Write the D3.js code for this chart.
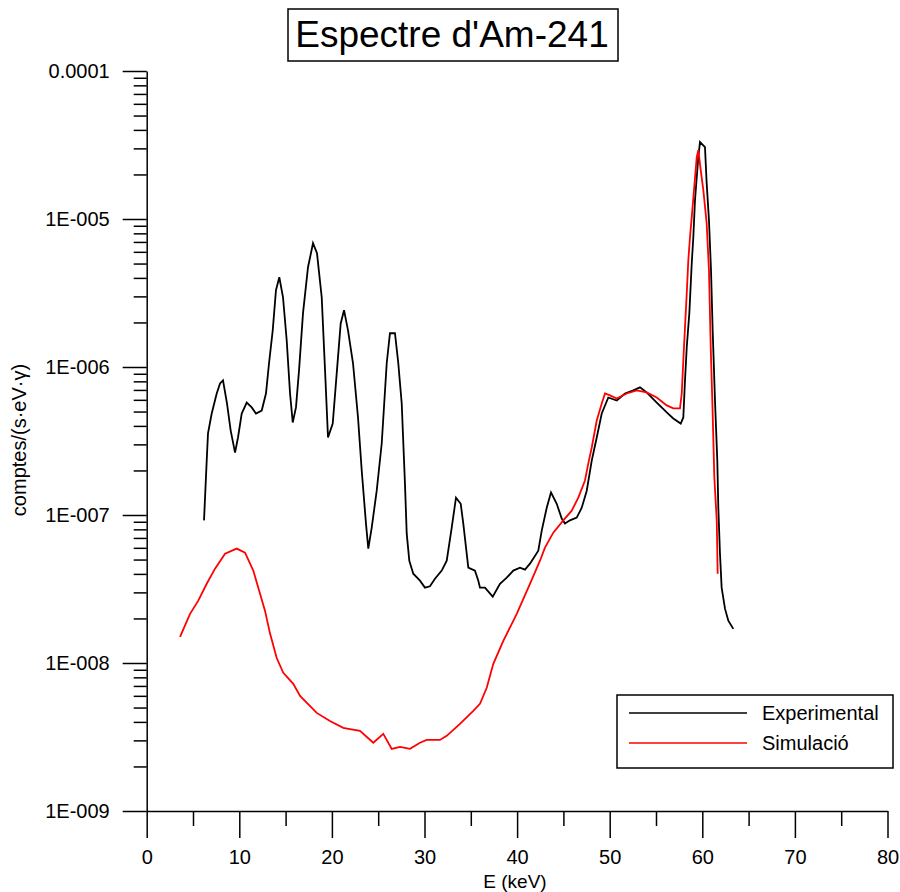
<!DOCTYPE html>
<html>
<head>
<meta charset="utf-8">
<script src="https://cdn.jsdelivr.net/npm/d3@7"></script>
<style>
  body { margin: 0; background: #fff; }
  svg { font-family: "Liberation Sans", Arial, sans-serif; }
</style>
</head>
<body>
<div id="chart"></div>
<script>
// Experimental spectrum (E in keV, counts/(s·eV·γ))
var expE = [6.19, 6.48, 6.62, 7.02, 7.56, 7.92, 8.24, 8.67, 9.07, 9.54, 9.86, 10.26, 10.80, 11.34, 11.80,
  12.42, 12.88, 13.21, 13.61, 13.96, 14.32, 14.72, 15.12, 15.48, 15.77, 16.12, 16.45, 16.88, 17.42, 17.96,
  18.39, 18.90, 19.26, 19.58, 20.09, 20.52, 20.95, 21.31, 21.74, 22.28, 22.82, 23.22, 23.68, 23.93, 24.30,
  24.84, 25.38, 25.92, 26.27, 26.81, 27.17, 27.54, 27.89, 28.08, 28.36, 28.79, 29.51, 30.05, 30.59, 31.13,
  31.86, 32.40, 32.94, 33.40, 33.91, 34.19, 34.73, 35.45, 35.81, 35.99, 36.53, 37.37, 38.15, 38.88, 39.59,
  40.31, 40.85, 41.39, 42.29, 42.66, 43.20, 43.66, 44.28, 44.82, 45.17, 45.71, 46.44, 46.98, 47.52, 48.06,
  48.60, 49.14, 49.85, 50.76, 51.65, 52.55, 53.27, 53.99, 55.08, 56.16, 56.87, 57.67, 57.95, 58.13, 58.32,
  58.60, 58.86, 59.03, 59.21, 59.40, 59.57, 59.75, 60.29, 60.47, 60.72, 60.94, 61.12, 61.37, 61.62, 61.73,
  61.91, 62.09, 62.45, 62.81, 63.35];
var expCounts = [9.2e-8, 2.33e-7, 3.56e-7, 4.85e-7, 6.62e-7, 7.74e-7, 8.11e-7, 5.67e-7, 3.72e-7, 2.64e-7,
  3.34e-7, 4.85e-7, 5.75e-7, 5.33e-7, 4.85e-7, 5.08e-7, 6.62e-7, 1.06e-6, 1.77e-6, 3.30e-6, 4.04e-6, 2.96e-6,
  1.51e-6, 6.62e-7, 4.22e-7, 5.33e-7, 9.48e-7, 2.31e-6, 4.72e-6, 6.86e-6, 5.87e-6, 2.96e-6, 9.48e-7, 3.34e-7,
  4.15e-7, 9.05e-7, 1.97e-6, 2.42e-6, 1.77e-6, 1.06e-6, 4.56e-7, 2.00e-7, 8.75e-8, 5.93e-8, 8.22e-8, 1.46e-7,
  3.04e-7, 1.06e-6, 1.69e-6, 1.69e-6, 1.06e-6, 5.67e-7, 1.63e-7, 7.48e-8, 4.91e-8, 4.01e-8, 3.60e-8, 3.23e-8,
  3.30e-8, 3.71e-8, 4.21e-8, 4.91e-8, 8.22e-8, 1.31e-7, 1.19e-7, 8.75e-8, 4.41e-8, 4.21e-8, 3.60e-8, 3.23e-8,
  3.23e-8, 2.81e-8, 3.43e-8, 3.77e-8, 4.21e-8, 4.41e-8, 4.27e-8, 4.69e-8, 5.74e-8, 7.84e-8, 1.12e-7, 1.42e-7,
  1.19e-7, 9.46e-8, 8.75e-8, 9.2e-8, 9.6e-8, 1.12e-7, 1.46e-7, 2.33e-7, 3.34e-7, 4.85e-7, 6.22e-7, 5.94e-7,
  6.62e-7, 6.95e-7, 7.28e-7, 6.73e-7, 5.75e-7, 4.93e-7, 4.49e-7, 4.15e-7, 4.56e-7, 8.11e-7, 1.36e-6, 2.31e-6,
  5.02e-6, 7.53e-6, 1.34e-5, 1.92e-5, 2.62e-5, 3.31e-5, 3.06e-5, 1.75e-5, 9.8e-6, 4.51e-6, 1.77e-6, 5.94e-7,
  2.33e-7, 1.12e-7, 5.48e-8, 3.23e-8, 2.33e-8, 1.93e-8, 1.7e-8];

// Simulated spectrum
var simE = [3.60, 4.68, 5.57, 6.48, 7.38, 8.46, 9.72, 10.62, 11.51, 12.24, 12.78, 13.32, 14.04, 14.75, 15.83,
  16.56, 18.36, 19.79, 21.23, 21.95, 23.03, 24.47, 25.55, 26.46, 27.35, 28.43, 29.51, 30.24, 31.67, 32.40,
  33.83, 35.27, 35.99, 36.72, 37.43, 38.51, 39.96, 41.39, 42.47, 43.01, 43.91, 44.99, 45.90, 46.61, 47.33,
  47.69, 48.06, 48.60, 49.14, 49.49, 50.03, 50.76, 51.84, 52.92, 53.99, 55.08, 56.16, 56.87, 57.59, 57.78,
  57.95, 58.13, 58.32, 58.49, 58.67, 58.86, 59.03, 59.21, 59.40, 59.57, 59.83, 60.11, 60.47, 60.72, 60.91,
  61.12, 61.30, 61.56, 61.66];
var simCounts = [1.50e-8, 2.15e-8, 2.64e-8, 3.43e-8, 4.34e-8, 5.48e-8, 5.93e-8, 5.57e-8, 4.21e-8, 2.94e-8,
  2.25e-8, 1.58e-8, 1.08e-8, 8.59e-9, 7.23e-9, 6.0e-9, 4.6e-9, 4.06e-9, 3.65e-9, 3.58e-9, 3.48e-9, 2.89e-9,
  3.32e-9, 2.63e-9, 2.71e-9, 2.63e-9, 2.89e-9, 3.02e-9, 3.02e-9, 3.22e-9, 3.88e-9, 4.75e-9, 5.3e-9, 6.8e-9,
  9.88e-9, 1.41e-8, 2.15e-8, 3.43e-8, 4.91e-8, 6.02e-8, 7.6e-8, 9.2e-8, 1.07e-7, 1.31e-7, 1.71e-7, 2.23e-7,
  2.86e-7, 4.35e-7, 5.67e-7, 6.62e-7, 6.43e-7, 6.13e-7, 6.62e-7, 6.95e-7, 6.73e-7, 6.22e-7, 5.5e-7, 5.25e-7,
  5.25e-7, 6.62e-7, 1.11e-6, 1.85e-6, 3.15e-6, 5.26e-6, 7.53e-6, 1.03e-5, 1.38e-5, 1.89e-5, 2.62e-5, 2.92e-5,
  2.14e-5, 1.57e-5, 9.37e-6, 4.51e-6, 1.36e-6, 4.85e-7, 1.79e-7, 9.2e-8, 4.01e-8];

var xMajor = [0, 10, 20, 30, 40, 50, 60, 70, 80];
var xMinor = [5, 15, 25, 35, 45, 55, 65, 75];
var yMajor = [1e-9, 1e-8, 1e-7, 1e-6, 1e-5, 1e-4];
var yLabels = ["1E-009", "1E-008", "1E-007", "1E-006", "1E-005", "0.0001"];
var seriesNames = ["Experimental", "Simulació"];
var seriesColors = ["#000000", "#ff0000"];

var svg = d3.select('#chart').append('svg')
    .attr('width', 900)
    .attr('height', 892);

var x = d3.scaleLinear().domain([0, 80]).range([146.7, 887.5]);
var y = d3.scaleLog().domain([1e-9, 1e-4]).range([811, 71]);

// minor log ticks 2..9 in each decade
var yMinor = [];
yMajor.slice(0, -1).forEach(function(d) {
  for (var k = 2; k <= 9; k++) yMinor.push(d * k);
});

// y axis
svg.append('g')
    .attr('transform', 'translate(' + x(0) + ',0)')
    .call(d3.axisLeft(y).tickValues(yMinor).tickSize(13).tickSizeOuter(0).tickFormat(''))
    .call(function(g) { g.select('.domain').remove(); });

var yAxis = svg.append('g')
    .attr('transform', 'translate(' + x(0) + ',0)')
    .call(d3.axisLeft(y).tickValues(yMajor).tickSize(24).tickSizeOuter(0).tickPadding(13)
      .tickFormat(function(d, i) { return yLabels[i]; }));
yAxis.selectAll('text').attr('font-size', 20).attr('font-family', '"Liberation Sans", Arial, sans-serif').attr('fill', '#000');

// x axis
svg.append('g')
    .attr('transform', 'translate(0,' + y(1e-9) + ')')
    .call(d3.axisBottom(x).tickValues(xMinor).tickSize(15).tickSizeOuter(0).tickFormat(''))
    .call(function(g) { g.select('.domain').remove(); });

var xAxis = svg.append('g')
    .attr('transform', 'translate(0,' + y(1e-9) + ')')
    .call(d3.axisBottom(x).tickValues(xMajor).tickSize(27).tickSizeOuter(0).tickPadding(12));
xAxis.selectAll('text').attr('font-size', 20).attr('font-family', '"Liberation Sans", Arial, sans-serif').attr('fill', '#000');

svg.selectAll('.tick line, .domain').attr('stroke', '#000').attr('stroke-width', 1.5);

// axis titles
svg.append('text')
    .attr('x', 515).attr('y', 888)
    .attr('text-anchor', 'middle')
    .attr('font-size', 19)
    .text('E (keV)');

svg.append('text')
    .attr('transform', 'translate(26,440) rotate(-90)')
    .attr('text-anchor', 'middle')
    .attr('font-size', 20)
    .text('comptes/(s·eV·γ)');

// curves
var line = d3.line()
    .x(function(d) { return x(d[0]); })
    .y(function(d) { return y(d[1]); });

var series = [
  d3.zip(expE, expCounts),
  d3.zip(simE, simCounts)
];

svg.append('g').selectAll('path')
    .data(series)
  .join('path')
    .attr('d', line)
    .attr('fill', 'none')
    .attr('stroke', function(d, i) { return seriesColors[i]; })
    .attr('stroke-width', 1.8);

// title
var title = svg.append('g');
title.append('rect')
    .attr('x', 288).attr('y', 9).attr('width', 330).attr('height', 52)
    .attr('fill', '#fff').attr('stroke', '#000').attr('stroke-width', 1.5);
title.append('text')
    .attr('x', 452).attr('y', 47)
    .attr('text-anchor', 'middle')
    .attr('font-size', 37)
    .text("Espectre d'Am-241");

// legend
var legend = svg.append('g');
legend.append('rect')
    .attr('x', 617).attr('y', 695).attr('width', 276).attr('height', 73)
    .attr('fill', '#fff').attr('stroke', '#000').attr('stroke-width', 1.5);
var item = legend.selectAll('g.item')
    .data(seriesNames)
  .join('g')
    .attr('class', 'item')
    .attr('transform', function(d, i) { return 'translate(0,' + (713 + i * 30) + ')'; });
item.append('line')
    .attr('x1', 629).attr('x2', 747)
    .attr('stroke', function(d, i) { return seriesColors[i]; })
    .attr('stroke-width', 1.5);
item.append('text')
    .attr('x', 762).attr('y', 6.5)
    .attr('font-size', 20)
    .text(function(d) { return d; });
</script>
</body>
</html>
